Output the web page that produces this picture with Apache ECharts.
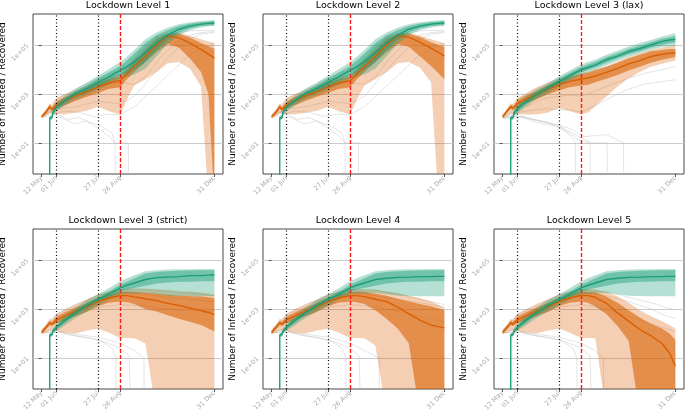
<!DOCTYPE html>
<html><head><meta charset="utf-8">
<script src="https://cdn.jsdelivr.net/npm/echarts@6/dist/echarts.min.js"></script>
<style>html,body{margin:0;padding:0;background:#fff}#c{width:685px;height:413px}</style>
</head><body><div id="c"></div><script>
// ---------- data ----------
const TITLES = ['Lockdown Level 1','Lockdown Level 2','Lockdown Level 3 (lax)','Lockdown Level 3 (strict)','Lockdown Level 4','Lockdown Level 5'];
const X_TICK_DAYS = [0, 20, 76, 106, 233];            // days since 12 May
const X_TICK_LABELS = ['12 May','01 Jun','27 Jul','26 Aug','31 Dec'];
const Y_TICKS = [10, 1000, 100000];
const Y_TICK_LABELS = ['1e+01','1e+03','1e+05'];
const DOTTED_DAYS = [20, 76];
const DASHED_DAYS = [106];
const Z = 0.05; // zero count (falls below the log axis)
const DAYS = [0, 6, 10.9, 11, 14, 15, 20, 30, 45, 60, 76, 90, 106, 115, 125, 140, 155, 170, 185, 200, 215, 225, 233];

// Level 1
const om1 = [1.2e2,1.8e2,3.0e2,3.0e2,2.3e2,2.6e2,3.5e2,5.0e2,8.1e2,1.2e3,1.9e3,2.8e3,3.5e3,6.6e3,1.3e4,3.5e4,1.0e5,2.3e5,2.0e5,1.2e5,6.6e4,4.2e4,2.9e4];
const o25hi1 = [1.3e2,2.1e2,3.6e2,3.6e2,2.8e2,3.2e2,4.8e2,7.1e2,1.1e3,1.8e3,2.8e3,4.0e3,5.2e3,9.5e3,2.0e4,6.0e4,1.7e5,2.9e5,2.9e5,2.0e5,1.2e5,8.9e4,7.1e4];
const o25lo1 = [1.05e2,1.6e2,2.5e2,2.5e2,1.9e2,2.1e2,2.5e2,3.3e2,5.2e2,7.6e2,1.1e3,1.6e3,1.9e3,4.0e3,7.9e3,2.0e4,5.2e4,1.1e5,7.9e4,2.8e4,7.9e3,1.0e3,Z];
const o05hi1 = [1.4e2,2.4e2,4.2e2,4.2e2,3.5e2,4.0e2,6.9e2,9.5e2,1.4e3,2.2e3,3.8e3,5.2e3,6.6e3,1.3e4,2.9e4,8.5e4,2.2e5,3.0e5,3.2e5,2.4e5,1.7e5,1.4e5,1.2e5];
const o05lo1 = [1.0e2,1.3e2,1.6e2,1.6e2,1.5e2,1.5e2,1.6e2,1.45e2,1.7e2,2.0e2,3.0e2,2.0e2,1.45e2,5.9e2,2.2e3,4.0e3,7.9e3,1.8e4,2.0e4,1.1e4,2.0e3,Z,Z];
const gm1 = [null,null,Z,1.07e2,1.07e2,1.7e2,3.0e2,5.0e2,1.0e3,1.6e3,3.0e3,4.9e3,9.1e3,1.3e4,2.1e4,4.9e4,1.2e5,2.5e5,4.4e5,5.9e5,7.1e5,7.6e5,7.9e5];
const g25hi1 = [null,null,null,1.2e2,1.2e2,2.0e2,3.7e2,6.3e2,1.3e3,2.2e3,4.3e3,7.4e3,1.4e4,2.3e4,4.4e4,1.2e5,2.5e5,4.0e5,6.0e5,7.4e5,8.5e5,9.1e5,9.5e5];
const g25lo1 = [null,null,null,9.5e1,9.5e1,1.45e2,2.3e2,4.0e2,7.6e2,1.1e3,2.0e3,3.2e3,5.8e3,7.4e3,1.0e4,2.0e4,6.2e4,1.6e5,3.2e5,4.7e5,5.9e5,6.3e5,6.6e5];
const g05hi1 = [null,null,null,1.3e2,1.3e2,2.3e2,4.5e2,7.9e2,1.6e3,2.8e3,5.6e3,1.0e4,2.0e4,3.3e4,6.3e4,1.7e5,3.2e5,5.0e5,7.1e5,8.5e5,9.5e5,1.0e6,1.05e6];
const g05lo1 = [null,null,null,8.7e1,8.7e1,1.3e2,1.9e2,3.2e2,6.0e2,9.1e2,1.5e3,2.4e3,4.2e3,5.2e3,6.3e3,1.1e4,3.5e4,1.1e5,2.5e5,4.0e5,5.2e5,5.8e5,6.0e5];
const gray1 = [
  [[0,110],[10,200],[20,160],[35,90],[50,110],[65,70],[80,50],[95,25],[99,10],[99.5,Z]],
  [[0,100],[12,180],[25,110],[45,60],[60,80],[76,40],[92,18],[99,10],[117,10],[117.5,Z]],
  [[0,130],[20,400],[45,900],[76,2200],[106,3000],[125,2500],[140,5000],[160,3e4],[180,1.2e5],[200,2.5e5],[215,3.2e5],[233,3.5e5]],
  [[0,120],[20,250],[45,300],[76,500],[106,400],[125,800],[145,4000],[170,3e4],[195,1.5e5],[215,2.8e5],[233,3.2e5]],
  [[0,140],[20,600],[45,1500],[76,4500],[106,9000],[125,2e4],[150,9e4],[175,2.8e5],[200,3.8e5],[233,4.0e5]],
  [[0,110],[15,140],[30,200],[50,180],[70,120],[90,150],[106,140],[125,300],[150,1500],[175,8000],[200,4e4],[233,1.2e5]]
];
// Level 2
const om2 = [1.2e2,1.8e2,3.0e2,3.0e2,2.3e2,2.6e2,3.5e2,5.0e2,8.1e2,1.2e3,1.9e3,2.8e3,3.5e3,6.6e3,1.3e4,3.5e4,1.0e5,2.3e5,2.1e5,1.3e5,7.4e4,5.0e4,3.5e4];
const o25hi2 = [1.3e2,2.1e2,3.6e2,3.6e2,2.8e2,3.2e2,4.8e2,7.1e2,1.1e3,1.8e3,2.8e3,4.0e3,5.2e3,9.5e3,2.0e4,6.0e4,1.7e5,2.9e5,2.9e5,2.1e5,1.3e5,1.0e5,8.5e4];
const o25lo2 = [1.05e2,1.6e2,2.5e2,2.5e2,1.9e2,2.1e2,2.5e2,3.3e2,5.2e2,7.6e2,1.1e3,1.6e3,1.9e3,4.0e3,7.9e3,2.0e4,5.2e4,1.1e5,8.5e4,3.5e4,1.4e4,7.0e3,4.0e3];
const o05hi2 = [1.4e2,2.4e2,4.2e2,4.2e2,3.5e2,4.0e2,6.9e2,9.5e2,1.4e3,2.2e3,3.8e3,5.2e3,6.6e3,1.3e4,2.9e4,8.5e4,2.2e5,3.0e5,3.2e5,2.4e5,1.7e5,1.4e5,1.2e5];
const o05lo2 = [1.0e2,1.3e2,1.6e2,1.6e2,1.5e2,1.5e2,1.6e2,1.45e2,1.7e2,2.0e2,3.0e2,2.0e2,1.45e2,5.9e2,2.2e3,4.0e3,7.9e3,1.8e4,2.0e4,1.2e4,3.0e3,Z,Z];
// Level 3 (lax)
const om3 = [1.2e2,2.0e2,3.0e2,3.0e2,2.7e2,2.8e2,4.1e2,5.9e2,9.3e2,1.5e3,2.4e3,3.2e3,4.1e3,4.5e3,5.5e3,7.6e3,1.1e4,1.7e4,2.3e4,3.4e4,4.2e4,4.6e4,4.7e4];
const o25hi3 = [1.3e2,2.3e2,3.6e2,3.6e2,3.2e2,3.3e2,5.5e2,8.3e2,1.3e3,2.2e3,3.5e3,4.8e3,6.6e3,7.4e3,9.3e3,1.3e4,1.9e4,2.9e4,4.0e4,5.5e4,6.3e4,6.8e4,6.9e4];
const o25lo3 = [1.05e2,1.7e2,2.5e2,2.5e2,2.1e2,2.3e2,2.8e2,4.0e2,6.0e2,9.5e2,1.4e3,1.9e3,2.2e3,2.4e3,3.0e3,4.2e3,6.0e3,9.1e3,1.3e4,1.9e4,2.5e4,2.9e4,3.2e4];
const o05hi3 = [1.4e2,2.5e2,4.2e2,4.2e2,3.7e2,4.0e2,6.9e2,1.0e3,1.8e3,2.8e3,4.2e3,5.6e3,7.1e3,7.9e3,1.0e4,1.4e4,2.1e4,3.2e4,4.5e4,6.3e4,7.9e4,8.9e4,9.3e4];
const o05lo3 = [1.0e2,1.3e2,1.6e2,1.6e2,1.5e2,1.5e2,1.6e2,1.45e2,1.45e2,1.7e2,2.7e2,2.0e2,1.45e2,1.7e2,3.2e2,7.9e2,2.0e3,4.4e3,7.9e3,1.3e4,1.7e4,2.0e4,2.3e4];
const gm3 = [null,null,Z,1.07e2,1.07e2,1.6e2,2.5e2,4.5e2,9.3e2,1.7e3,3.2e3,5.5e3,9.8e3,1.2e4,1.5e4,2.5e4,3.5e4,5.4e4,7.2e4,1.0e5,1.4e5,1.6e5,1.7e5];
const g25hi3 = [null,null,null,1.2e2,1.2e2,1.9e2,3.1e2,5.8e2,1.2e3,2.1e3,4.2e3,7.1e3,1.3e4,1.6e4,2.0e4,3.2e4,4.6e4,6.9e4,9.3e4,1.3e5,1.8e5,2.0e5,2.3e5];
const g25lo3 = [null,null,null,9.5e1,9.5e1,1.3e2,1.95e2,3.5e2,7.2e2,1.3e3,2.5e3,4.3e3,7.6e3,9.5e3,1.2e4,1.9e4,2.8e4,4.2e4,5.6e4,7.8e4,1.05e5,1.2e5,1.3e5];
const g05hi3 = [null,null,null,1.3e2,1.3e2,2.2e2,3.7e2,7.1e2,1.5e3,2.6e3,5.2e3,9.1e3,1.6e4,2.0e4,2.5e4,4.0e4,5.8e4,8.7e4,1.2e5,1.6e5,2.2e5,2.6e5,3.0e5];
const g05lo3 = [null,null,null,8.7e1,8.7e1,1.15e2,1.6e2,2.8e2,5.9e2,1.0e3,2.0e3,3.3e3,6.0e3,7.6e3,9.5e3,1.5e4,2.2e4,3.3e4,4.5e4,6.3e4,8.3e4,8.9e4,9.3e4];
const gray3 = [
  [[0,110],[20,150],[40,90],[60,70],[80,40],[95,15],[98,10],[98.5,Z]],
  [[0,100],[20,130],[45,70],[70,50],[90,25],[105,12],[118,10],[118.5,Z]],
  [[0,110],[25,120],[50,80],[76,50],[100,20],[120,10],[141,10],[141.5,Z]],
  [[0,100],[30,110],[60,70],[90,40],[110,18],[140,22],[163,10],[163.5,Z]],
  [[0,120],[30,200],[60,250],[90,220],[106,180],[130,400],[160,1200],[190,2500],[215,3200],[233,3800]],
  [[0,120],[30,300],[60,700],[90,900],[106,800],[140,2000],[170,4500],[200,8000],[233,1.3e4]],
  [[0,140],[20,600],[45,1600],[76,4500],[106,9000],[140,2.5e4],[180,6e4],[233,1.4e5]]
];
// Level 3 (strict)
const om4 = [1.1e2,1.8e2,2.7e2,2.7e2,2.4e2,2.6e2,3.6e2,5.0e2,7.9e2,1.2e3,2.0e3,2.8e3,3.5e3,3.5e3,3.1e3,2.6e3,2.2e3,1.7e3,1.4e3,1.1e3,8.5e2,7.2e2,5.9e2];
const o25hi4 = [1.3e2,2.0e2,3.2e2,3.2e2,2.9e2,3.2e2,4.8e2,6.9e2,1.1e3,1.7e3,2.8e3,3.8e3,5.0e3,5.2e3,5.0e3,4.6e3,4.2e3,3.8e3,3.5e3,3.3e3,3.2e3,3.0e3,2.8e3];
const o25lo4 = [1.0e2,1.5e2,2.2e2,2.2e2,2.0e2,2.1e2,2.6e2,3.3e2,5.0e2,7.6e2,1.3e3,1.8e3,2.0e3,1.9e3,1.6e3,1.0e3,7.9e2,5.6e2,4.0e2,3.0e2,2.2e2,1.6e2,1.2e2];
const o05hi4 = [1.4e2,2.3e2,4.0e2,4.0e2,3.5e2,4.0e2,6.3e2,9.3e2,1.5e3,2.4e3,4.0e3,5.2e3,6.3e3,6.8e3,6.9e3,6.6e3,6.3e3,5.8e3,5.2e3,5.0e3,4.7e3,4.3e3,3.8e3];
const o05lo4 = [9.5e1,1.1e2,1.3e2,1.3e2,1.2e2,1.2e2,1.3e2,1.1e2,1.0e2,1.3e2,1.6e2,1.1e2,6.6e1,6.6e1,6.3e1,4.0e1,Z,Z,Z,Z,Z,Z,Z];
const gm4 = [null,null,Z,8.9e1,8.9e1,1.2e2,1.8e2,3.2e2,6.9e2,1.3e3,2.4e3,3.9e3,7.2e3,9.3e3,1.15e4,1.6e4,1.9e4,2.0e4,2.1e4,2.3e4,2.3e4,2.4e4,2.5e4];
const g25hi4 = [null,null,null,1.0e2,1.0e2,1.4e2,2.1e2,4.0e2,8.7e2,1.7e3,3.0e3,5.0e3,9.8e3,1.3e4,1.8e4,2.8e4,3.2e4,3.5e4,3.6e4,3.7e4,3.8e4,3.8e4,3.8e4];
const g25lo4 = [null,null,null,7.9e1,7.9e1,1.05e2,1.5e2,2.5e2,5.5e2,1.0e3,1.9e3,3.0e3,5.2e3,6.3e3,7.2e3,8.9e3,1.1e4,1.2e4,1.3e4,1.3e4,1.35e4,1.35e4,1.35e4];
const g05hi4 = [null,null,null,1.1e2,1.1e2,1.6e2,2.5e2,5.0e2,1.1e3,2.2e3,4.0e3,6.9e3,1.35e4,1.8e4,2.4e4,3.5e4,3.8e4,4.1e4,4.2e4,4.2e4,4.3e4,4.3e4,4.3e4];
const g05lo4 = [null,null,null,7.1e1,7.1e1,9.1e1,1.3e2,2.0e2,4.2e2,7.6e2,1.4e3,2.3e3,3.9e3,4.2e3,4.3e3,4.5e3,4.0e3,3.5e3,3.4e3,3.3e3,3.3e3,3.3e3,3.3e3];
const gray4 = [
  [[0,110],[15,150],[35,90],[60,70],[80,50],[95,25],[100,10],[100.5,Z]],
  [[0,100],[20,130],[45,80],[70,60],[90,40],[106,25],[118,12],[120,Z]],
  [[0,110],[25,110],[50,90],[76,70],[106,40],[125,20],[138,10],[138.5,Z]],
  [[0,140],[20,600],[45,1500],[76,3500],[106,6000],[140,6500],[170,5500],[200,4500],[233,3500]],
  [[0,120],[20,300],[50,600],[76,1200],[106,1500],[140,1300],[170,1000],[200,900],[233,800]],
  [[0,130],[20,500],[60,2000],[106,4500],[140,4000],[170,3000],[200,2500],[233,2000]]
];
// Level 4
const om5 = [1.1e2,1.8e2,2.7e2,2.7e2,2.4e2,2.6e2,3.6e2,5.0e2,7.9e2,1.2e3,2.0e3,2.8e3,3.5e3,3.5e3,3.2e3,2.5e3,2.0e3,1.2e3,6.3e2,3.5e2,2.2e2,1.9e2,1.7e2];
const o25hi5 = [1.3e2,2.0e2,3.2e2,3.2e2,2.9e2,3.2e2,4.8e2,6.9e2,1.1e3,1.7e3,2.8e3,3.8e3,5.0e3,5.2e3,5.0e3,4.2e3,3.5e3,2.6e3,2.0e3,1.6e3,1.3e3,1.05e3,8.9e2];
const o25lo5 = [1.0e2,1.5e2,2.2e2,2.2e2,2.0e2,2.1e2,2.6e2,3.3e2,5.0e2,7.6e2,1.3e3,1.8e3,2.0e3,1.9e3,1.6e3,8.9e2,4.0e2,1.6e2,4.0e1,Z,Z,Z,Z];
const o05hi5 = [1.4e2,2.3e2,4.0e2,4.0e2,3.5e2,4.0e2,6.3e2,9.3e2,1.5e3,2.4e3,4.0e3,5.2e3,6.3e3,6.6e3,6.3e3,6.2e3,5.2e3,4.5e3,3.5e3,2.8e3,2.0e3,1.5e3,1.1e3];
const o05lo5 = [9.5e1,1.1e2,1.3e2,1.3e2,1.2e2,1.2e2,1.3e2,1.1e2,1.0e2,1.3e2,1.6e2,1.1e2,6.6e1,6.6e1,6.3e1,3.2e1,Z,Z,Z,Z,Z,Z,Z];
const gm5 = [null,null,Z,8.9e1,8.9e1,1.2e2,1.8e2,3.2e2,6.9e2,1.3e3,2.4e3,3.9e3,7.2e3,9.3e3,1.15e4,1.6e4,1.8e4,1.95e4,2.0e4,2.1e4,2.1e4,2.15e4,2.15e4];
const gray5 = [
  [[0,110],[15,150],[35,90],[60,70],[80,50],[95,25],[100,10],[100.5,Z]],
  [[0,100],[20,130],[45,80],[70,60],[90,40],[106,25],[118,12],[120,Z]],
  [[0,110],[25,110],[50,90],[76,70],[106,40],[125,20],[145,10],[145.5,Z]],
  [[0,140],[20,600],[45,1500],[76,3500],[106,6000],[140,6000],[170,4000],[200,2500],[233,1500]],
  [[0,120],[20,300],[50,600],[76,1200],[106,1500],[140,1200],[170,800],[200,500],[233,300]],
  [[0,130],[20,500],[60,2000],[106,4500],[140,3500],[170,2500],[200,1800],[233,1200]]
];
// Level 5
const om6 = [1.1e2,1.8e2,2.7e2,2.7e2,2.4e2,2.6e2,3.6e2,5.0e2,7.9e2,1.2e3,2.0e3,2.8e3,3.6e3,3.5e3,3.0e3,1.7e3,6.9e2,3.2e2,1.45e2,8.1e1,3.9e1,1.6e1,4.6];
const o25hi6 = [1.3e2,2.0e2,3.2e2,3.2e2,2.9e2,3.2e2,4.8e2,6.9e2,1.1e3,1.7e3,2.8e3,3.8e3,5.2e3,5.1e3,4.8e3,3.2e3,1.8e3,8.9e2,4.5e2,2.5e2,1.6e2,1.0e2,5.6e1];
const o25lo6 = [1.0e2,1.5e2,2.2e2,2.2e2,2.0e2,2.1e2,2.6e2,3.3e2,5.0e2,7.6e2,1.3e3,1.8e3,2.0e3,1.8e3,1.26e3,6.3e2,2.0e2,5.0e1,Z,Z,Z,Z,Z];
const o05hi6 = [1.4e2,2.3e2,4.0e2,4.0e2,3.5e2,4.0e2,6.3e2,9.3e2,1.5e3,2.4e3,4.0e3,5.2e3,6.6e3,6.6e3,6.3e3,5.0e3,3.2e3,1.8e3,8.9e2,5.0e2,3.2e2,2.2e2,1.6e2];
const o05lo6 = [9.5e1,1.1e2,1.3e2,1.3e2,1.2e2,1.2e2,1.3e2,1.1e2,1.0e2,1.3e2,1.6e2,1.1e2,6.6e1,6.6e1,6.3e1,Z,Z,Z,Z,Z,Z,Z,Z];
const gray6 = [
  [[0,110],[15,150],[35,90],[60,70],[80,50],[95,25],[100,10],[100.5,Z]],
  [[0,100],[20,130],[45,80],[70,60],[90,40],[106,25],[118,12],[120,Z]],
  [[0,110],[25,110],[50,90],[76,70],[106,40],[125,20],[136,10],[136.5,Z]],
  [[0,140],[20,600],[45,1500],[76,3500],[106,6000],[140,5000],[170,3000],[200,1800],[233,900]],
  [[0,120],[20,300],[50,600],[76,1200],[106,1500],[140,1000],[170,500],[200,250],[233,120]],
  [[0,130],[20,500],[60,2000],[106,4500],[140,3500],[170,2000],[200,1000],[215,600],[233,400]]
];

// ---------- build the chart ----------
const PANELS = [
  {om: om1, o25: [o25lo1, o25hi1], o05: [o05lo1, o05hi1], gm: gm1, g25: [g25lo1, g25hi1], g05: [g05lo1, g05hi1], gray: gray1},
  {om: om2, o25: [o25lo2, o25hi2], o05: [o05lo2, o05hi2], gm: gm1, g25: [g25lo1, g25hi1], g05: [g05lo1, g05hi1], gray: gray1},
  {om: om3, o25: [o25lo3, o25hi3], o05: [o05lo3, o05hi3], gm: gm3, g25: [g25lo3, g25hi3], g05: [g05lo3, g05hi3], gray: gray3},
  {om: om4, o25: [o25lo4, o25hi4], o05: [o05lo4, o05hi4], gm: gm4, g25: [g25lo4, g25hi4], g05: [g05lo4, g05hi4], gray: gray4},
  {om: om5, o25: [o25lo5, o25hi5], o05: [o05lo5, o05hi5], gm: gm5, g25: [g25lo4, g25hi4], g05: [g05lo4, g05hi4], gray: gray5},
  {om: om6, o25: [o25lo6, o25hi6], o05: [o05lo6, o05hi6], gm: gm5, g25: [g25lo4, g25hi4], g05: [g05lo4, g05hi4], gray: gray6}
];
const ORANGE = '#d95f02', GREEN = '#1b9e77';
const FONT = 'DejaVu Sans';
const LEFTS = [33, 263, 494], TOPS = [14, 229], GW = 190, GH = 160;
const X_MIN = -11.65, X_MAX = 244.65, Y_MIN = 0.54, Y_MAX = 1.84e6;

const grids = [], xAxes = [], yAxes = [], titles = [], series = [];
PANELS.forEach((p, i) => {
  const left = LEFTS[i % 3], top = TOPS[Math.floor(i / 3)];
  grids.push({left, top, width: GW, height: GH, show: true, borderColor: '#333', borderWidth: 0.9,
    containLabel: false, outerBoundsMode: 'none'});
  titles.push({text: TITLES[i], left: left + GW / 2, top: top - 13, textAlign: 'center', padding: 0,
    textStyle: {fontSize: 9.5, fontWeight: 'normal', color: '#000', fontFamily: FONT}});
  xAxes.push({type: 'value', gridIndex: i, min: X_MIN, max: X_MAX,
    axisLine: {show: false}, splitLine: {show: false},
    axisTick: {show: true, length: 3, lineStyle: {color: '#333', width: 0.8}, customValues: X_TICK_DAYS},
    axisLabel: {customValues: X_TICK_DAYS, rotate: 45, fontSize: 6.5, color: '#aaa', margin: 3, fontFamily: FONT,
      formatter: v => X_TICK_LABELS[X_TICK_DAYS.indexOf(v)]}});
  yAxes.push({type: 'log', logBase: 10, gridIndex: i, min: Y_MIN, max: Y_MAX,
    name: 'Number of Infected / Recovered', nameLocation: 'middle', nameGap: 20, nameRotate: 90,
    nameTextStyle: {fontSize: 9, color: '#000', fontFamily: FONT},
    axisLine: {show: false},
    axisTick: {show: true, length: 3, lineStyle: {color: '#333', width: 0.8}, customValues: Y_TICKS},
    axisLabel: {customValues: Y_TICKS, rotate: 45, fontSize: 6.5, color: '#aaa', margin: 5, fontFamily: FONT,
      formatter: v => Y_TICK_LABELS[Y_TICKS.findIndex(t => Math.abs(t - v) / t < 1e-6)]},
    splitLine: {show: true, lineStyle: {color: '#cbcbcb', width: 1}}});

  p.gray.forEach(g => series.push({type: 'line', xAxisIndex: i, yAxisIndex: i, data: g, symbol: 'none',
    lineStyle: {color: '#bdbdbd', width: 0.7, opacity: 0.6}, z: 1, silent: true, animation: false, clip: true}));

  const band = (lo, hi, color, opacity, z) => ({
    type: 'custom', xAxisIndex: i, yAxisIndex: i, z, clip: true, silent: true, animation: false,
    data: [[0, 1]],
    renderItem: (params, api) => {
      const top = [], bot = [];
      DAYS.forEach((d, k) => {
        if (lo[k] == null || hi[k] == null) return;
        top.push(api.coord([d, hi[k]]));
        bot.push(api.coord([d, lo[k]]));
      });
      return {type: 'polygon', shape: {points: top.concat(bot.reverse())}, style: {fill: color, opacity}};
    }
  });
  series.push(band(p.o05[0], p.o05[1], ORANGE, 0.3, 2));
  series.push(band(p.o25[0], p.o25[1], ORANGE, 0.58, 3));
  series.push(band(p.g05[0], p.g05[1], GREEN, 0.32, 4));
  series.push(band(p.g25[0], p.g25[1], GREEN, 0.45, 5));

  const pts = arr => DAYS.map((d, k) => [d, arr[k]]).filter(q => q[1] != null);
  series.push({type: 'line', xAxisIndex: i, yAxisIndex: i, data: pts(p.om), symbol: 'none',
    lineStyle: {color: ORANGE, width: 1.4}, z: 6, silent: true, animation: false, clip: true});
  series.push({type: 'line', xAxisIndex: i, yAxisIndex: i, data: pts(p.gm), symbol: 'none',
    lineStyle: {color: GREEN, width: 1.4}, z: 7, silent: true, animation: false, clip: true});

  series.push({type: 'line', xAxisIndex: i, yAxisIndex: i, data: [], z: 10, silent: true, animation: false,
    markLine: {symbol: 'none', silent: true, animation: false, label: {show: false},
      data: DOTTED_DAYS.map(d => ({xAxis: d, lineStyle: {color: '#000', type: [1, 2.5], width: 1.2}}))
        .concat(DASHED_DAYS.map(d => ({xAxis: d, lineStyle: {color: '#ff1a1a', type: [4, 2], width: 1.4}})))}});
});

const chart = echarts.init(document.getElementById('c'), null, {renderer: 'canvas'});
chart.setOption({animation: false, backgroundColor: '#fff', title: titles, grid: grids,
  xAxis: xAxes, yAxis: yAxes, series});
</script></body></html>
